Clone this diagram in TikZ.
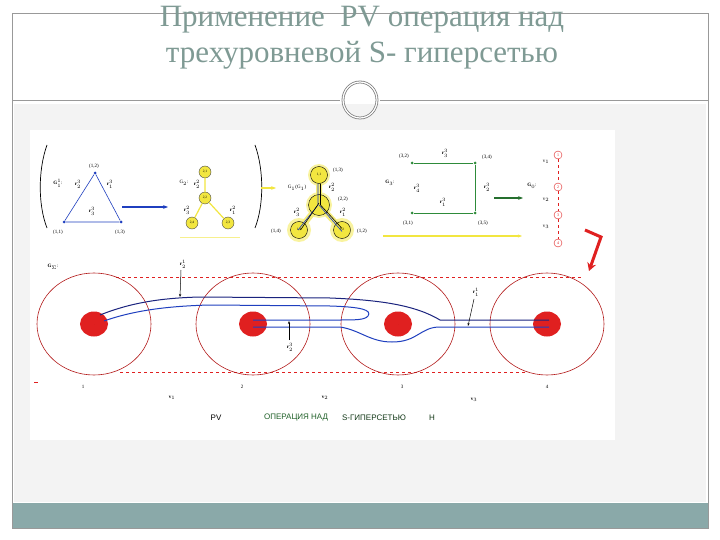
\documentclass[tikz,border=0pt]{standalone}
\usepackage{fontspec}
\setmainfont{Liberation Serif}
\setsansfont{Liberation Sans}
\usetikzlibrary{arrows.meta,shapes.geometric}
\definecolor{ttl}{HTML}{7F9A94}
\definecolor{teal}{HTML}{8AA9A9}
\definecolor{bgg}{HTML}{F3F3F3}
\definecolor{navy}{HTML}{1A237E}
\definecolor{bl}{HTML}{1F3FBF}
\definecolor{gr}{HTML}{2E8B3A}
\definecolor{yl}{HTML}{F2E640}
\definecolor{rd}{HTML}{E02020}
\begin{document}
\begin{tikzpicture}[x=1pt,y=-1pt,
  lab/.style={font=\fontsize{5}{5}\selectfont,inner sep=0pt},
  ylnode/.style={circle,draw=black!70,fill=yl,minimum size=12pt,inner sep=0pt,font=\fontsize{3.5}{3.5}\selectfont},
  bignode/.style={circle,draw=black,fill=yl,minimum size=17pt,inner sep=0pt,font=\fontsize{3.5}{3.5}\selectfont},
  dotn/.style={circle,fill,minimum size=3pt,inner sep=0pt},
  g0n/.style={circle,draw=rd,fill=white,minimum size=8pt,inner sep=0pt,text=rd,font=\fontsize{4}{4}\selectfont},
  bigc/.style={draw=rd!80!black,line width=0.6pt},
  reddot/.style={fill=rd},
  rdash/.style={draw=rd,dashed,line width=0.6pt},
  arr/.style={-{Stealth[length=5pt]},line width=1.4pt}]
\useasboundingbox (0,0) rectangle (720,540);
\fill[white] (0,0) rectangle (720,540);
% page frame
\fill[bgg] (14,104) rectangle (706,502);
\fill[teal] (12,503) rectangle (708,528);
\draw[gray!80,line width=0.6pt] (12,13) -- (708,13) -- (708,528) -- (12,528) -- cycle;
\draw[gray!80,line width=0.6pt] (12,100) -- (340,100) (380,100) -- (708,100);
\node[draw=gray,double=white,double distance=1.2pt,line width=0.8pt,ellipse,minimum width=34pt,minimum height=36pt,inner sep=0pt] (orn) at (360,100) {};
\node[text=ttl,font=\fontsize{31}{36}\selectfont,align=center] (title) at (362,38) {Применение\ \ PV операция над\\трехуровневой S- гиперсетью};
\fill[white] (30,130) rectangle (615,440);
% ---------- top row ----------
\draw[line width=0.7pt] (47,145) .. controls (38,170) and (38,205) .. (47,228);
\draw[line width=0.7pt] (255,145) .. controls (264,170) and (264,205) .. (255,228);
% triangle G1
\node[dotn,bl] (t1) at (95,173) {};
\node[dotn,bl] (t2) at (64,222) {};
\node[dotn,bl] (t3) at (121,222) {};
\draw[bl,line width=0.6pt] (t1) -- (t2) -- (t3) -- (t1);
\node[lab] (l12) at (94,166) {(1,2)};
\node[lab] (l11) at (58,232) {(1,1)};
\node[lab] (l13) at (120,232) {(1,3)};
\node[lab] (g1) at (58,183) {$\mathbf{G}_1^1$:};
\node[lab] (a1) at (78,184) {$\mathbf{r}^3_2$};
\node[lab] (a2) at (110,184) {$\mathbf{r}^3_1$};
\node[lab] (a3) at (92,211) {$\mathbf{r}^3_3$};
\coordinate (b1) at (122,207); \coordinate (b2) at (168,207);
\draw[arr,bl] (b1) -- (b2);
% G2
\draw[yl!60,line width=1pt] (180,237) -- (240,237);
\node[ylnode] (n21) at (205,172) {2,1};
\node[ylnode] (n22) at (205,198) {2,2};
\node[ylnode] (n24) at (192,223) {2,4};
\node[ylnode] (n23) at (228,223) {2,3};
\draw[yl,line width=1.2pt] (n21) -- (n22) (n22) -- (n24) (n22) -- (n23);
\node[lab] (g2) at (184,183) {G$_2$:};
\node[lab] (c1) at (197,184) {$\mathbf{r}^2_2$};
\node[lab] (c2) at (187,210) {$\mathbf{r}^2_3$};
\node[lab] (c3) at (233,210) {$\mathbf{r}^2_1$};
\coordinate (y1) at (261,188); \coordinate (y2) at (276,188);
\draw[arr,yl] (y1) -- (y2);
% G1(G1)
\fill[yl!50] (319,175) circle (11) (319,205) circle (13) (299,230) circle (12) (342,230) circle (12);
\draw[yl!70,line width=6pt] (319,175) -- (319,205) -- (299,230) (319,205) -- (342,230);
\node[bignode] (m1) at (319,175) {1,1};
\node[bignode,minimum size=21pt] (m2) at (319,205) {};
\node[bignode] (m3) at (299,230) {1,4};
\node[bignode] (m4) at (342,230) {1,2};
\draw[bl,line width=0.6pt] ([xshift=-1pt]m1.south) -- ([xshift=-1pt]m2.center) -- ([xshift=-1pt]m3.center);
\draw[black,line width=0.6pt] ([xshift=1.5pt]m1.south) -- ([xshift=1.5pt]m2.center) -- ([yshift=1.5pt]m4.center);
\draw[bl,line width=0.6pt] (m2.center) -- ([yshift=-1.5pt]m4.center);
\draw[black,line width=0.6pt] ([yshift=2pt]m2.center) -- ([xshift=1.5pt]m3.center);
\node[lab] (g11) at (297,188) {G$_1$(G$_1$)};
\node[lab] (d1) at (338,170) {(1,3)};
\node[lab] (d2) at (332,187) {$\mathbf{r}^2_2$};
\node[lab] (d3) at (343,199) {(2,2)};
\node[lab] (d4) at (343,212) {$\mathbf{r}^2_1$};
\node[lab] (d5) at (297,212) {$\mathbf{r}^2_3$};
\node[lab] (d6) at (276,231) {(1,4)};
\node[lab] (d7) at (362,231) {(1,2)};
% G3
\node[dotn,gr] (q1) at (412,163) {};
\node[dotn,gr] (q2) at (475,163) {};
\node[dotn,gr] (q3) at (475,213) {};
\node[dotn,gr] (q4) at (412,213) {};
\draw[gr,line width=0.7pt] (q1) -- (q2) -- (q3) -- (q4);
\node[lab] (e1) at (404,156) {(3,2)};
\node[lab] (e2) at (487,157) {(3,4)};
\node[lab] (e3) at (445,153) {$\mathbf{r}^3_3$};
\node[lab] (e4) at (390,183) {$\mathbf{G}_3$:};
\node[lab] (e5) at (417,188) {$\mathbf{r}^3_4$};
\node[lab] (e6) at (487,187) {$\mathbf{r}^3_2$};
\node[lab] (e7) at (443,202) {$\mathbf{r}^3_1$};
\node[lab] (e8) at (408,223) {(3,1)};
\node[lab] (e9) at (483,223) {(3,5)};
\coordinate (f1) at (494,198); \coordinate (f2) at (523,198);
\draw[arr,gr!80!black] (f1) -- (f2);
\coordinate (h1) at (383,236); \coordinate (h2) at (522,236);
\draw[-{Stealth[length=4pt]},yl,line width=1.4pt] (h1) -- (h2);
% G0
\node[g0n] (p1) at (558,155) {1};
\node[g0n] (p2) at (558,187) {2};
\node[g0n] (p3) at (558,215) {3};
\node[g0n] (p4) at (558,243) {4};
\draw[rd,dashed,line width=0.5pt] (p1) -- (p2) -- (p3) -- (p4);
\node[lab] (g0) at (532,186) {$\mathbf{G}_0$:};
\node[lab] (v1t) at (546,162) {v$_1$};
\node[lab] (v2t) at (546,200) {v$_2$};
\node[lab] (v3t) at (546,227) {v$_3$};
% red bent arrow
\coordinate (ra1) at (585,230); \coordinate (ra2) at (601,237); \coordinate (ra3) at (589,271);
\draw[rd,line width=3pt,-{Stealth[length=8pt,width=9pt]}] (ra1) -- (ra2) -- (ra3);
% ---------- bottom G_Sigma ----------
\draw[rdash] (116,277) -- (583,277);
\draw[rdash] (120,372) -- (525,372);
\draw[rd] (34,382) -- (38,382);
\foreach \c/\n in {94/1,253/2,398/3,547/4}{
  \draw[bigc] (\c,324) ellipse (57 and 51);
  \fill[reddot] (\c,324) ellipse (14 and 12.5);
  \node[dotn,minimum size=0pt] (bd\n) at (\c,324) {};
}
\coordinate (s1a) at (100,315); \coordinate (s1b) at (104,321);
\coordinate (s2a) at (253,320); \coordinate (s2b) at (253,327);
\coordinate (s4a) at (549,320); \coordinate (s4b) at (549,327);
% paths
\draw[navy,line width=1pt] (s1a) .. controls (130,303) and (160,298) .. (200,297) -- (330,298) .. controls (380,300) and (415,305) .. (440,320) -- (s4a);
\draw[bl,line width=1pt] (s1b) .. controls (135,310) and (170,306) .. (210,305) -- (330,306) .. controls (362,307) and (372,310) .. (368,316) .. controls (365,320) and (355,320) .. (340,320) -- (s2a);
\draw[bl,line width=1pt] (s2b) -- (340,327) .. controls (360,330) and (370,342) .. (392,342) .. controls (418,342) and (420,327) .. (440,327) -- (s4b);
% labels
\node[lab] (gs) at (53,267) {$\mathbf{G}_\Sigma$:};
\node[lab] (r21) at (183,264) {$\mathbf{r}^1_2$};
\coordinate (r21a) at (181,270); \coordinate (r21b) at (180,297);
\draw[-{Stealth[length=3pt]},line width=0.5pt] (r21a) -- (r21b);
\node[lab] (r23) at (290,347) {$\mathbf{r}^3_2$};
\coordinate (r23a) at (289,340); \coordinate (r23b) at (289,321);
\draw[-{Stealth[length=3pt]},line width=0.5pt] (r23a) -- (r23b);
\node[lab] (r11) at (476,292) {$\mathbf{r}^1_1$};
\coordinate (r11a) at (474,299); \coordinate (r11b) at (468,326);
\draw[-{Stealth[length=3pt]},line width=0.5pt] (r11a) -- (r11b);
\node[lab] (k1) at (83,387) {1};
\node[lab] (k2) at (242,387) {2};
\node[lab] (k3) at (402,387) {3};
\node[lab] (k4) at (547,387) {4};
\node[lab] (w1) at (172,398) {$\mathbf{v}_1$};
\node[lab] (w2) at (325,398) {$\mathbf{v}_2$};
\node[lab] (w3) at (474,400) {$\mathbf{v}_3$};
\node[font=\sffamily\fontsize{8}{8}\selectfont,inner sep=0pt] (cap1) at (216,418) {PV};
\node[font=\sffamily\fontsize{8}{8}\selectfont,inner sep=0pt,text=gr!70!black] (cap2) at (296,418) {ОПЕРАЦИЯ НАД};
\node[font=\sffamily\fontsize{8}{8}\selectfont,inner sep=0pt,text=gr!40!black] (cap3) at (374,418) {S-ГИПЕРСЕТЬЮ};
\node[font=\sffamily\fontsize{8}{8}\selectfont,inner sep=0pt,text=gr!40!black] (cap4) at (432,418) {Н};
\end{tikzpicture}
\end{document}
